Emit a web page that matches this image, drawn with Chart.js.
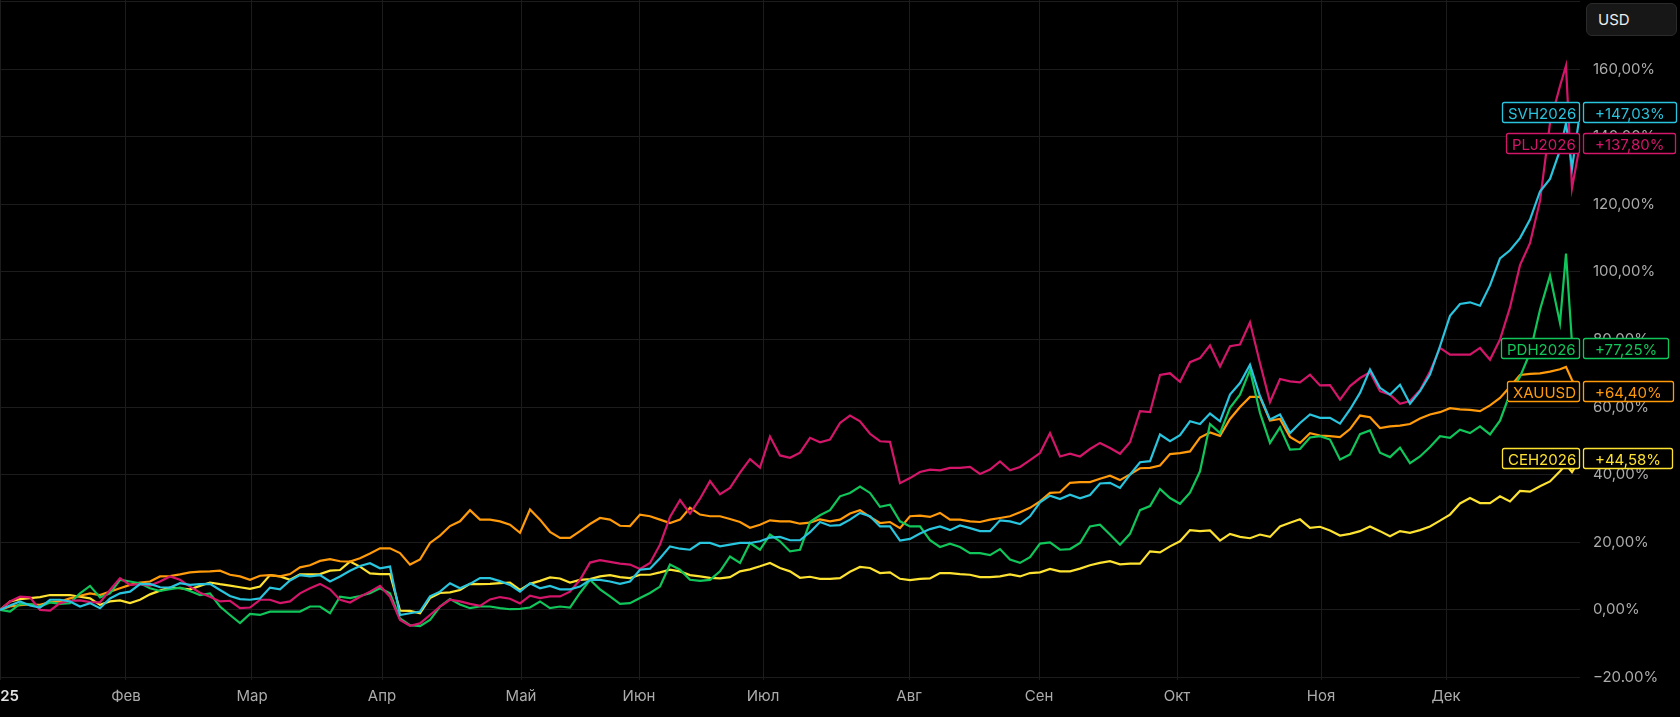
<!DOCTYPE html>
<html><head><meta charset="utf-8">
<script src="https://cdn.jsdelivr.net/npm/chart.js@4.4.1/dist/chart.umd.min.js"></script>
<style>
html,body{margin:0;padding:0;background:#000;}
#wrap{position:relative;width:1680px;height:717px;overflow:hidden;background:#000;}
canvas{display:block;}
#usd{position:absolute;left:1586px;top:3px;width:91px;height:33px;box-sizing:border-box;border:1px solid #2b2b2b;border-radius:6px;background:#171717;color:#ececec;font:15px Inter, sans-serif;line-height:31px;padding-left:11px;}
</style></head>
<body><div id="wrap"><canvas id="c" width="1680" height="717"></canvas><div id="usd">USD</div></div>
<script>
// sample positions (time index, one step ~ 1.6 sessions); last samples are individual sessions
const t = Array.from({length:157}, (_, i) => i).concat([156.6, 157.2, 158]);

const monthTickPos = [0, 12.6, 25.2, 38.2, 52.1, 63.9, 76.3, 90.9, 103.9, 117.7, 132.1, 144.6];
const monthLabels = ['2025', 'Фев', 'Мар', 'Апр', 'Май', 'Июн', 'Июл', 'Авг', 'Сен', 'Окт', 'Ноя', 'Дек'];

const yTickVals = [-20, 0, 20, 40, 60, 80, 100, 120, 140, 160, 180];
const yTickLabels = ['\u221220.00%', '0,00%', '20,00%', '40,00%', '60,00%', '80,00%', '100,00%', '120,00%', '140,00%', '160,00%', ''];

const seriesNames = ['SVH2026', 'PLJ2026', 'PDH2026', 'XAUUSD', 'CEH2026'];
const seriesColors = ['#29c4de', '#d4166a', '#10c65a', '#ff9a0a', '#fde232'];

const svh = [
0, 1.3, 2.5, 1.3, 0.7, 3.0, 3.0, 2.5, 1.0, 2.0,
0.5, 3.4, 4.9, 5.4, 7.6, 7.7, 6.7, 6.6, 7.9, 7.4,
7.6, 7.7, 5.9, 4.1, 3.2, 3.0, 3.4, 6.6, 6.1, 8.7,
10.3, 9.9, 10.3, 8.4, 9.9, 11.6, 13.0, 13.8, 12.3, 12.8,
-1.5, -1.0, -0.5, 4.0, 5.4, 7.9, 6.4, 7.7, 9.4, 9.4,
8.5, 7.4, 5.4, 7.9, 6.4, 7.1, 6.1, 6.1, 6.9, 8.9,
8.9, 8.4, 7.7, 8.4, 11.9, 12.2, 15.3, 18.8, 18.1, 17.8,
19.8, 19.8, 18.8, 19.3, 19.8, 19.8, 20.3, 21.4, 21.6, 20.6,
20.6, 23.0, 26.0,
24.9, 25.1, 26.7, 28.7, 27.7, 24.7, 24.7, 20.5, 21.0, 22.6,
23.9, 24.7, 23.6, 25.0, 24.2, 23.3, 23.3, 26.5, 26.2, 25.4,
27.7, 31.8, 33.8, 32.8, 34.1, 33.0, 34.0, 37.4, 37.6, 36.1,
40.0, 43.7, 44.0, 51.9, 49.9, 51.7, 55.8, 55.0, 58.1, 55.8,
63.7, 67.1, 72.5, 63.2, 56.3, 57.8, 52.3, 55.3, 57.8, 56.8,
56.8, 55.1, 59.3, 64.2, 71.1, 65.7, 63.7, 66.6, 61.0, 64.7,
69.6, 78.0, 87.0, 90.5, 91.0, 90.0, 96.0, 104.0, 106.4, 110.0,
115.5, 123.8, 127.5, 136.0,
144.0, 130.7, 147.03];

const plj = [
0, 2.5, 3.9, 3.7, 0, -0.2, 2.0, 2.7, 2.8, 2.3,
2.2, 5.9, 9.4, 7.4, 7.6, 7.2, 8.4, 9.9, 8.9, 6.9,
5.1, 3.9, 2.5, 2.7, 0.5, 0.7, 3.0, 3.0, 2.0, 2.5,
4.9, 6.4, 7.7, 6.1, 3.0, 2.2, 3.9, 5.4, 7.1, 3.9,
-3.0, -4.7, -4.0, -1.5, 1.0, 3.0, 2.5, 1.8, 1.2, 3.1,
3.8, 3.3, 1.9, 4.2, 3.5, 4.0, 4.0, 5.4, 8.9, 14.0,
14.7, 14.2, 13.7, 13.4, 12.1, 13.9, 19.3, 27.5, 32.5, 28.5,
32.9, 38.1, 34.2, 36.1, 40.6, 44.6, 42.1, 51.3, 45.7, 45.0,
46.5, 50.9, 49.6,
50.4, 55.3, 57.5, 55.8, 52.1, 49.9, 49.7, 37.5, 39.0, 40.8,
41.5, 41.3, 42.0, 42.0, 42.3, 40.2, 41.5, 43.9, 41.3, 42.3,
44.3, 46.4, 52.3, 45.4, 46.2, 45.4, 47.6, 49.4, 47.9, 46.2,
49.6, 58.8, 58.5, 69.5, 70.0, 67.5, 73.3, 74.5, 78.3, 72.0,
78.0, 78.5, 85.1, 73.0, 61.5, 68.3, 67.6, 67.3, 69.6, 66.4,
66.5, 62.2, 66.2, 68.6, 70.3, 64.7, 63.7, 61.0, 61.8, 65.0,
70.5, 77.5, 75.5, 75.5, 75.5, 77.5, 74.0, 80.0, 89.5, 102.0,
108.5, 121.0, 144.0, 155.0,
161.0, 124.8, 137.8];

const pdh = [
0, -0.5, 1.8, 1.7, 1.0, 2.2, 1.8, 2.0, 4.9, 7.1,
3.7, 4.9, 8.9, 8.4, 7.9, 6.4, 5.6, 6.1, 6.6, 5.6,
4.4, 4.9, 1.0, -1.5, -3.9, -1.2, -1.5, -0.5, -0.5, -0.5,
-0.5, 1.0, 1.0, -1.0, 3.9, 3.5, 4.1, 4.9, 6.4, 4.9,
-2.5, -4.5, -4.8, -3.0, 1.0, 3.2, 1.6, 0.5, 1.0, 1.0,
0.5, 0.2, 0.3, 0.7, 2.5, 0.5, 1.0, 0.7, 5.0, 8.9,
6.1, 4.0, 1.8, 2.0, 3.5, 5.0, 6.9, 13.4, 11.9, 8.9,
8.6, 8.9, 11.4, 15.8, 13.9, 19.8, 17.8, 22.3, 20.3, 17.3,
17.8, 26.0, 28.0,
29.5, 33.6, 34.6, 36.5, 34.6, 30.5, 31.1, 26.2, 24.7, 24.7,
20.6, 18.6, 19.6, 18.6, 16.8, 16.8, 16.2, 18.0, 14.9, 13.9,
15.6, 19.6, 20.0, 17.8, 18.0, 19.8, 24.7, 25.2, 22.3, 19.3,
22.5, 29.5, 30.7, 35.8, 33.1, 31.4, 34.7, 41.0, 55.0, 52.3,
59.8, 63.7, 71.0, 58.3, 49.4, 54.0, 47.4, 47.6, 51.0, 51.4,
50.4, 44.5, 46.0, 52.0, 53.1, 46.5, 45.2, 48.0, 43.4, 45.4,
48.2, 51.4, 50.9, 53.3, 52.3, 54.3, 51.9, 56.0, 64.0, 69.0,
76.0, 88.8, 98.9, 84.9,
105.4, 79.0, 77.25];

const xau = [
0, 1.0, 1.4, 1.6, 1.5, 2.3, 2.5, 3.4, 4.2, 4.9,
4.4, 5.4, 6.4, 7.4, 8.1, 8.4, 9.9, 10.0, 10.5, 11.1,
11.3, 11.4, 11.6, 10.4, 9.9, 8.9, 10.1, 10.3, 9.9, 10.6,
12.6, 13.2, 14.5, 15.0, 14.4, 14.3, 15.3, 16.7, 18.2, 18.2,
16.8, 13.4, 14.9, 19.8, 22.0, 24.8, 26.2, 29.5, 26.7, 26.7,
26.2, 25.2, 22.8, 29.7, 26.7, 23.1, 21.3, 21.3, 23.3, 25.4,
27.2, 26.7, 24.9, 24.8, 28.2, 27.7, 26.7, 25.7, 26.7, 30.2,
28.2, 27.7, 27.7, 26.9, 26.0, 24.3, 25.2, 26.5, 26.2, 26.2,
25.5, 25.8, 26.8,
26.2, 26.7, 28.5, 29.5, 27.5, 25.7, 26.0, 24.2, 27.7, 27.9,
27.5, 28.7, 26.7, 26.7, 26.2, 26.0, 26.7, 27.2, 27.7, 28.9,
30.2, 32.1, 34.6, 34.8, 37.6, 37.8, 37.8, 38.8, 39.7, 38.4,
40.1, 41.9, 42.0, 42.7, 46.1, 46.4, 46.9, 51.0, 52.5, 51.5,
56.5, 60.0, 63.0, 63.0, 56.0, 56.5, 51.2, 49.4, 52.3, 51.6,
51.4, 51.1, 53.5, 57.5, 57.0, 53.8, 54.3, 54.5, 55.0, 56.6,
57.8, 58.5, 59.7, 59.3, 59.2, 58.8, 60.5, 62.7, 66.0, 69.5,
69.8, 70.0, 70.5, 71.2,
71.9, 68.0, 64.4];

const ceh = [
0, 2.5, 3.2, 3.5, 3.8, 4.4, 4.4, 4.4, 3.9, 3.4,
1.5, 2.5, 2.8, 2.0, 3.0, 4.6, 5.7, 6.6, 6.4, 6.1,
7.1, 8.1, 7.6, 7.2, 6.7, 6.2, 6.9, 10.3, 9.9, 8.9,
10.5, 10.5, 10.6, 11.6, 11.8, 14.3, 12.8, 10.8, 10.6, 10.6,
-0.2, -0.3, -1.0, 3.5, 5.0, 5.2, 5.9, 7.7, 7.6, 7.7,
7.9, 8.1, 5.9, 7.7, 8.6, 9.6, 9.3, 8.1, 8.9, 9.1,
9.9, 10.3, 9.7, 9.4, 10.4, 10.4, 11.1, 11.9, 11.4, 10.3,
9.9, 9.5, 9.3, 9.7, 11.4, 12.0, 12.9, 13.9, 12.4, 11.4,
9.5, 9.8, 9.2,
9.2, 9.4, 11.3, 12.7, 12.4, 10.9, 11.1, 9.2, 8.8, 9.2,
9.3, 10.9, 10.9, 10.6, 10.4, 9.7, 9.7, 9.9, 10.5, 9.9,
10.9, 11.1, 12.1, 11.4, 11.4, 12.2, 13.2, 13.9, 14.4, 13.5,
13.7, 13.7, 17.3, 17.0, 18.8, 20.3, 23.6, 23.3, 23.5, 20.5,
22.5, 21.6, 21.2, 22.3, 21.6, 24.7, 25.8, 26.8, 24.3, 24.6,
23.5, 22.0, 22.5, 23.3, 24.7, 23.3, 21.8, 23.3, 22.8, 23.6,
24.7, 26.4, 28.2, 31.5, 33.1, 31.6, 31.6, 33.6, 32.1, 35.2,
35.0, 36.6, 38.0, 41.0,
43.0, 40.8, 44.58];

const seriesValues = [svh, plj, pdh, xau, ceh];

const FONT = 'Inter, "Noto Sans", sans-serif';
const gridColor = '#1c1c1c';
const tickColor = '#ababab';

const tagPlugin = {
  id: 'tags',
  afterDatasetsDraw(chart) {
    const {ctx, chartArea, scales: {y}} = chart;
    ctx.save();
    ctx.font = '15px ' + FONT;
    ctx.textBaseline = 'middle';
    const h = 21;
    chart.data.datasets.forEach(ds => {
      const last = ds.data[ds.data.length - 1].y;
      const py = Math.round(y.getPixelForValue(last));
      const name = ds.label;
      const val = '+' + last.toFixed(2).replace('.', ',') + '%';
      const nw = Math.round(ctx.measureText(name).width + 10);
      const vw = Math.round(ctx.measureText(val).width + 24);
      const boxes = [[chartArea.right - nw, nw, name, 6], [chartArea.right + 3, vw, val, 12]];
      boxes.forEach(([bx, bw, txt, padL]) => {
        const top = py - Math.round(h / 2);
        ctx.fillStyle = '#000';
        ctx.fillRect(bx, top, bw, h);
        ctx.strokeStyle = ds.borderColor;
        ctx.lineWidth = 1.3;
        ctx.beginPath();
        ctx.roundRect(bx + 0.5, top + 0.5, bw - 1, h - 1, 2);
        ctx.stroke();
        ctx.fillStyle = ds.borderColor;
        ctx.textAlign = 'left';
        ctx.fillText(txt, bx + padL, py + 1);
      });
    });
    ctx.restore();
  }
};

new Chart(document.getElementById('c'), {
  type: 'line',
  data: {
    datasets: seriesNames.map((name, k) => ({
      label: name,
      data: t.map((x, i) => ({x, y: seriesValues[k][i]})),
      borderColor: seriesColors[k],
      backgroundColor: seriesColors[k],
      borderWidth: 2.2,
      pointRadius: 0,
      tension: 0,
      fill: false
    }))
  },
  options: {
    responsive: false,
    animation: false,
    layout: {padding: {top: 0, left: 0, right: 0, bottom: 0}},
    plugins: {legend: {display: false}, tooltip: {enabled: false}},
    scales: {
      x: {
        type: 'linear', min: 0, max: 158,
        grid: {color: gridColor, drawTicks: false},
        border: {display: false},
        afterBuildTicks: s => { s.ticks = monthTickPos.map(v => ({value: v})); },
        afterFit: s => { s.height = 37; s.paddingLeft = 0; s.paddingRight = 0; },
        ticks: {
          autoSkip: false, maxRotation: 0, minRotation: 0, padding: 7,
          color: c => c.index === 0 ? '#e2e2e2' : tickColor,
          font: c => ({family: FONT, size: 15, weight: c.index === 0 ? '600' : '400'}),
          callback: (v, i) => monthLabels[i]
        }
      },
      y: {
        type: 'linear', position: 'right', min: -20.74, max: 180.44,
        grid: {color: gridColor, drawTicks: false},
        border: {display: false},
        afterBuildTicks: s => { s.ticks = yTickVals.map(v => ({value: v})); },
        afterFit: s => { s.width = 100; s.paddingTop = 0; s.paddingBottom = 0; },
        ticks: {
          padding: 13, color: tickColor,
          font: {family: FONT, size: 15},
          callback: (v, i) => yTickLabels[i]
        }
      }
    }
  },
  plugins: [tagPlugin]
});
</script>
</body></html>
